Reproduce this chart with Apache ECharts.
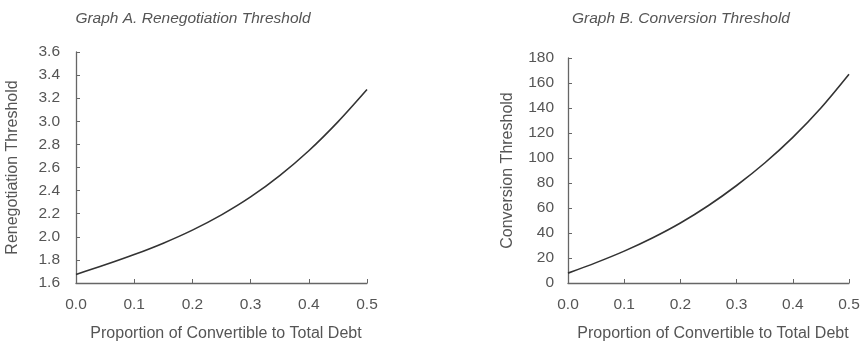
<!DOCTYPE html>
<html>
<head>
<meta charset="utf-8">
<script src="https://cdn.jsdelivr.net/npm/echarts@6/dist/echarts.min.js"></script>
<style>html,body{margin:0;padding:0;background:#fff}#c{width:864px;height:347px}</style>
</head>
<body>
<div id="c"></div>
<script>
var proportion = [0, 0.05, 0.1, 0.15, 0.2, 0.25, 0.3, 0.35, 0.4, 0.45, 0.5];
var renegotiation = [1.674, 1.757, 1.846, 1.945, 2.058, 2.19, 2.345, 2.53, 2.745, 2.995, 3.275];
var conversion = [7.9, 16.3, 25.5, 36.0, 48.0, 62.0, 78.0, 96.0, 116.5, 140.0, 167];
var titles = ['Graph A. Renegotiation Threshold', 'Graph B. Conversion Threshold'];
var yNames = ['Renegotiation Threshold', 'Conversion Threshold'];
var xName = 'Proportion of Convertible to Total Debt';

var font = "'Liberation Sans', Arial, Helvetica, sans-serif";
var txt = '#555';
var axisCol = '#666';
var fs = 15.5;

function xAxis(i) {
  return {
    type: 'value', gridIndex: i, min: 0, max: 0.5, interval: 0.1,
    name: xName, nameLocation: 'middle', nameGap: 43,
    nameTextStyle: { color: txt, fontSize: 16, fontFamily: font, padding: [0, 0, 0, 9] },
    axisLine: { lineStyle: { color: axisCol, width: 1.3 } },
    axisTick: { inside: true, length: 4, lineStyle: { color: axisCol } },
    axisLabel: { color: txt, fontSize: fs, fontFamily: font, margin: 14,
      formatter: function (v) { return v.toFixed(1); } },
    splitLine: { show: false }
  };
}
function yAxis(i, min, max, interval, dec, gap, margin) {
  return {
    type: 'value', gridIndex: i, min: min, max: max, interval: interval,
    name: yNames[i], nameLocation: 'middle', nameGap: gap,
    nameTextStyle: { color: txt, fontSize: 16, fontFamily: font },
    axisLine: { show: true, lineStyle: { color: axisCol, width: 1.3 } },
    axisTick: { show: true, inside: true, length: 4, lineStyle: { color: axisCol } },
    axisLabel: { color: txt, fontSize: fs, fontFamily: font, margin: margin,
      formatter: function (v) { return v.toFixed(dec); } },
    splitLine: { show: false }
  };
}
function pairs(ys) { return proportion.map(function (x, k) { return [x, ys[k]]; }); }

var chart = echarts.init(document.getElementById('c'));
chart.setOption({
  animation: false,
  title: [
    { text: titles[0], left: 188, top: 6, textAlign: 'center',
      textStyle: { fontStyle: 'italic', fontWeight: 'normal', fontSize: 15.5, color: txt, fontFamily: font } },
    { text: titles[1], left: 676, top: 6, textAlign: 'center',
      textStyle: { fontStyle: 'italic', fontWeight: 'normal', fontSize: 15.5, color: txt, fontFamily: font } }
  ],
  grid: [
    { left: 76, right: 497, top: 52, bottom: 61 },
    { left: 568, right: 15, top: 58, bottom: 60 }
  ],
  xAxis: [xAxis(0), xAxis(1)],
  yAxis: [yAxis(0, 1.6, 3.6, 0.2, 1, 55, 16), yAxis(1, 0, 180, 20, 0, 52, 14)],
  series: [
    { type: 'line', xAxisIndex: 0, yAxisIndex: 0, data: pairs(renegotiation), smooth: 0.3,
      showSymbol: false, lineStyle: { color: '#333', width: 1.6 } },
    { type: 'line', xAxisIndex: 1, yAxisIndex: 1, data: pairs(conversion), smooth: 0.3,
      showSymbol: false, lineStyle: { color: '#333', width: 1.6 } }
  ]
});
</script>
</body>
</html>
